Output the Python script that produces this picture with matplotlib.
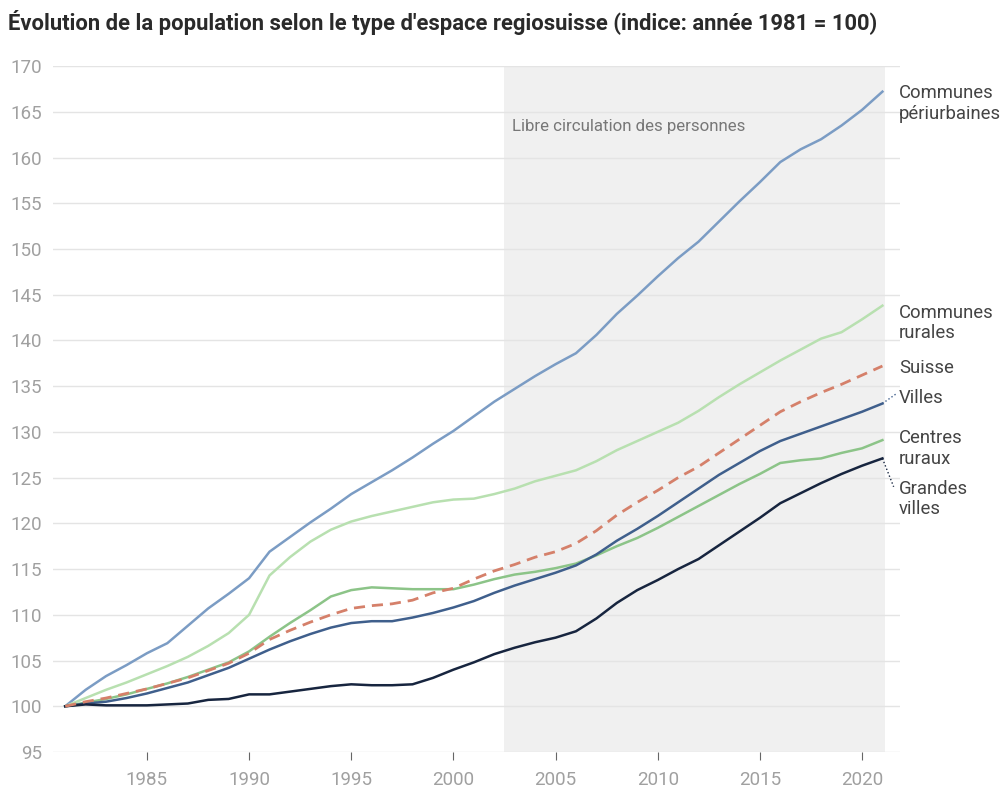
import matplotlib
matplotlib.use('Agg')
import matplotlib.pyplot as plt

plt.rcParams['font.family'] = ['Roboto', 'DejaVu Sans']

years = list(range(1981, 2022))

periurbaines = [100, 101.8, 103.3, 104.5, 105.8, 106.9, 108.8, 110.7, 112.3, 114.0,
                116.9, 118.5, 120.1, 121.6, 123.2, 124.5, 125.8, 127.2, 128.7, 130.1,
                131.7, 133.3, 134.7, 136.1, 137.4, 138.6, 140.6, 142.9, 144.9, 147.0,
                149.0, 150.8, 153.0, 155.2, 157.3, 159.5, 160.9, 162.0, 163.5, 165.2, 167.2]
rurales = [100, 100.9, 101.8, 102.6, 103.5, 104.4, 105.4, 106.6, 108.0, 110.0,
           114.3, 116.3, 118.0, 119.3, 120.2, 120.8, 121.3, 121.8, 122.3, 122.6,
           122.7, 123.2, 123.8, 124.6, 125.2, 125.8, 126.8, 128.0, 129.0, 130.0,
           131.0, 132.3, 133.8, 135.2, 136.5, 137.8, 139.0, 140.2, 140.9, 142.3, 143.8]
suisse = [100, 100.5, 100.9, 101.4, 101.9, 102.5, 103.1, 103.9, 104.7, 105.8,
          107.3, 108.3, 109.2, 110.0, 110.7, 111.0, 111.2, 111.6, 112.4, 112.9,
          113.9, 114.8, 115.5, 116.3, 116.9, 117.8, 119.2, 120.9, 122.3, 123.6,
          125.0, 126.2, 127.7, 129.2, 130.7, 132.2, 133.3, 134.3, 135.2, 136.2, 137.2]
villes = [100, 100.3, 100.5, 100.9, 101.4, 102.0, 102.6, 103.4, 104.2, 105.2,
          106.2, 107.1, 107.9, 108.6, 109.1, 109.3, 109.3, 109.7, 110.2, 110.8,
          111.5, 112.4, 113.2, 113.9, 114.6, 115.4, 116.6, 118.1, 119.4, 120.8,
          122.3, 123.8, 125.3, 126.6, 127.9, 129.0, 129.8, 130.6, 131.4, 132.2, 133.1]
centres_ruraux = [100, 100.4, 100.8, 101.3, 101.9, 102.5, 103.2, 104.0, 104.8, 106.0,
                  107.6, 109.1, 110.5, 112.0, 112.7, 113.0, 112.9, 112.8, 112.8, 112.8,
                  113.3, 113.9, 114.4, 114.7, 115.1, 115.6, 116.5, 117.5, 118.4, 119.5,
                  120.7, 121.9, 123.1, 124.3, 125.4, 126.6, 126.9, 127.1, 127.7, 128.2, 129.1]
grandes_villes = [100, 100.2, 100.1, 100.1, 100.1, 100.2, 100.3, 100.7, 100.8, 101.3,
                  101.3, 101.6, 101.9, 102.2, 102.4, 102.3, 102.3, 102.4, 103.1, 104.0,
                  104.8, 105.7, 106.4, 107.0, 107.5, 108.2, 109.6, 111.3, 112.7, 113.8,
                  115.0, 116.1, 117.6, 119.1, 120.6, 122.2, 123.3, 124.4, 125.4, 126.3, 127.1]

x_ticks = [1985, 1990, 1995, 2000, 2005, 2010, 2015, 2020]
y_ticks = list(range(95, 171, 5))

fig = plt.figure(figsize=(10.03, 7.89), dpi=100)
ax = fig.add_axes([0.0528, 0.0469, 0.8445, 0.8694])

# shaded period
ax.axvspan(2002.5, 2021.15, color='#f0f0f0', zorder=0, lw=0)
ax.text(2002.85, 163.4, 'Libre circulation des personnes', color='#777777',
        fontsize=12.2, va='center', ha='left')

# series
ax.plot(years, periurbaines, color='#7b9cc4', lw=1.8, zorder=3)
ax.plot(years, rurales, color='#b8e0b0', lw=1.8, zorder=3)
ax.plot(years, centres_ruraux, color='#8cc488', lw=1.8, zorder=3)
ax.plot(years, villes, color='#3f5f8c', lw=1.8, zorder=4)
ax.plot(years, grandes_villes, color='#17253f', lw=1.8, zorder=4)
ax.plot(years, suisse, color='#d5806a', lw=2, ls=(0, (4, 2.5)), zorder=5)

# labels at right
lab_x = 2021.8
lab_style = dict(fontsize=13.3, color='#444444', va='top', ha='left',
                 clip_on=False, linespacing=1.17)
ax.text(lab_x, 168.0, 'Communes\npériurbaines', **lab_style)
ax.text(lab_x, 144.0, 'Communes\nrurales', **lab_style)
ax.text(lab_x, 138.0, 'Suisse', **lab_style)
ax.text(lab_x, 134.7, 'Villes', **lab_style)
ax.text(lab_x, 130.3, 'Centres\nruraux', **lab_style)
ax.text(lab_x, 124.75, 'Grandes\nvilles', **lab_style)

# connectors
ax.plot([2021, 2021.7], [villes[-1], 134.2], color='#3f5f8c', lw=1, ls=':', clip_on=False)
ax.plot([2021, 2021.55], [grandes_villes[-1], 124.0], color='#17253f', lw=1, ls=':', clip_on=False)

ax.set_xlim(1980.4, 2021.86)
ax.set_ylim(95, 170)
ax.set_xticks(x_ticks)
ax.set_yticks(y_ticks)
ax.grid(axis='y', color='#e4e4e4', lw=1)
ax.set_axisbelow(True)
for s in ax.spines.values():
    s.set_visible(False)
ax.tick_params(axis='y', length=0, labelsize=13.5, labelcolor='#a0a0a0', pad=8)
ax.tick_params(axis='x', length=6, color='#666666', labelsize=13.5, labelcolor='#a0a0a0', pad=8)

fig.text(0.008, 0.972, "Évolution de la population selon le type d'espace regiosuisse (indice: année 1981 = 100)",
         fontsize=15.8, fontweight='bold', color='#2a2a2a', va='center', ha='left')

fig.savefig('out.png', dpi=100)
